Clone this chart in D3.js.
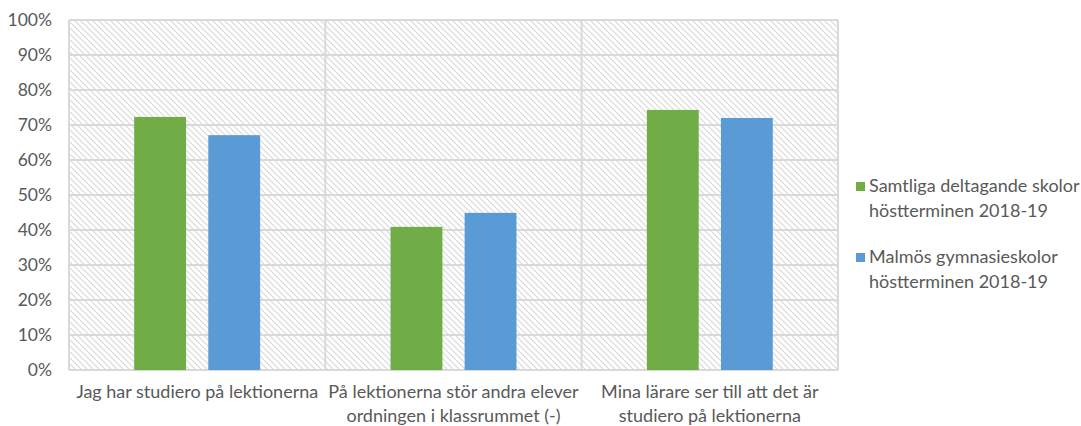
<!DOCTYPE html>
<html>
<head>
<meta charset="utf-8">
<script src="https://cdn.jsdelivr.net/npm/d3@7"></script>
<style>
  body { margin: 0; background: #fff; }
  text { font-family: Lato, "Open Sans", sans-serif; fill: #595959; }
</style>
</head>
<body>
<script>
// data
const categories = [
  ["Jag har studiero på lektionerna"],
  ["På lektionerna stör andra elever", "ordningen i klassrummet (-)"],
  ["Mina lärare ser till att det är", "studiero på lektionerna"]
];
const seriesNames = [
  ["Samtliga deltagande skolor", "höstterminen 2018-19"],
  ["Malmös gymnasieskolor", "höstterminen 2018-19"]
];
const samtliga = [0.723, 0.409, 0.743];
const malmo = [0.671, 0.449, 0.720];
const yTicks = [0, 0.1, 0.2, 0.3, 0.4, 0.5, 0.6, 0.7, 0.8, 0.9, 1.0];
const colors = ["#70ad47", "#5b9bd5"];

const w = 1081, h = 426;
const m = { top: 20, right: 243, bottom: 56, left: 69 };

const svg = d3.select("body").append("svg")
  .attr("width", w)
  .attr("height", h);

// hatched plot background
const defs = svg.append("defs");
const pat = defs.append("pattern")
  .attr("id", "hatch")
  .attr("patternUnits", "userSpaceOnUse")
  .attr("width", 6)
  .attr("height", 6);
pat.append("rect").attr("width", 6).attr("height", 6).attr("fill", "#fff");
pat.append("path")
  .attr("d", "M0,0L6,6M-1,5L1,7M5,-1L7,1")
  .attr("stroke", "#dadada")
  .attr("stroke-width", 1.2);

const x0 = d3.scaleBand()
  .domain(d3.range(categories.length))
  .range([m.left, w - m.right]);

const x1 = d3.scaleBand()
  .domain(d3.range(seriesNames.length))
  .range([0, x0.bandwidth()])
  .paddingInner(0.3)
  .paddingOuter(0.88);

const y = d3.scaleLinear()
  .domain([0, 1])
  .range([h - m.bottom, m.top]);

svg.append("rect")
  .attr("x", m.left)
  .attr("y", m.top)
  .attr("width", w - m.right - m.left)
  .attr("height", h - m.bottom - m.top)
  .attr("fill", "url(#hatch)");

// grid lines
svg.append("g")
  .selectAll("line")
  .data(yTicks)
  .join("line")
  .attr("x1", m.left)
  .attr("x2", w - m.right)
  .attr("y1", d => y(d))
  .attr("y2", d => y(d))
  .attr("stroke", "#d9d9d9")
  .attr("stroke-width", 2);

const dividers = d3.range(categories.length + 1).map(i => i < categories.length ? x0(i) : x0(i - 1) + x0.bandwidth());
svg.append("g")
  .selectAll("line")
  .data(dividers)
  .join("line")
  .attr("x1", d => d)
  .attr("x2", d => d)
  .attr("y1", y(0))
  .attr("y2", y(1))
  .attr("stroke", "#d9d9d9")
  .attr("stroke-width", 2);

// bars
const series = [samtliga, malmo];
const groups = svg.append("g")
  .selectAll("g")
  .data(series)
  .join("g")
  .attr("fill", (d, i) => colors[i]);

groups.each(function (vals, si) {
  d3.select(this).selectAll("rect")
    .data(vals)
    .join("rect")
    .attr("x", (d, ci) => x0(ci) + x1(si))
    .attr("width", x1.bandwidth())
    .attr("y", d => y(d))
    .attr("height", d => y(0) - y(d));
});

// y axis labels
const yAxis = d3.axisLeft(y)
  .tickValues(yTicks)
  .tickFormat(d3.format(".0%"))
  .tickSize(0)
  .tickPadding(17);

const yg = svg.append("g")
  .attr("transform", `translate(${m.left},0)`)
  .call(yAxis);
yg.select(".domain").remove();
yg.selectAll("text")
  .attr("font-size", 17.5)
  .attr("font-family", "Lato, sans-serif")
  .attr("fill", "#595959");

// category labels
const catG = svg.append("g")
  .selectAll("text")
  .data(categories)
  .join("text")
  .attr("x", (d, i) => x0(i) + x0.bandwidth() / 2)
  .attr("y", y(0) + 28)
  .attr("text-anchor", "middle")
  .attr("font-size", 18);
catG.selectAll("tspan")
  .data(d => d)
  .join("tspan")
  .attr("x", function () { return d3.select(this.parentNode).attr("x"); })
  .attr("dy", (d, i) => i === 0 ? 0 : 24)
  .text(d => d);

// legend
const legend = svg.append("g")
  .selectAll("g")
  .data(seriesNames)
  .join("g")
  .attr("transform", (d, i) => `translate(856,${182 + i * 71})`);

legend.append("rect")
  .attr("width", 9)
  .attr("height", 9)
  .attr("fill", (d, i) => colors[i]);

legend.append("text")
  .attr("x", 13)
  .attr("y", 10)
  .attr("font-size", 18)
  .selectAll("tspan")
  .data(d => d)
  .join("tspan")
  .attr("x", 13)
  .attr("dy", (d, i) => i === 0 ? 0 : 25)
  .text(d => d);
</script>
</body>
</html>
